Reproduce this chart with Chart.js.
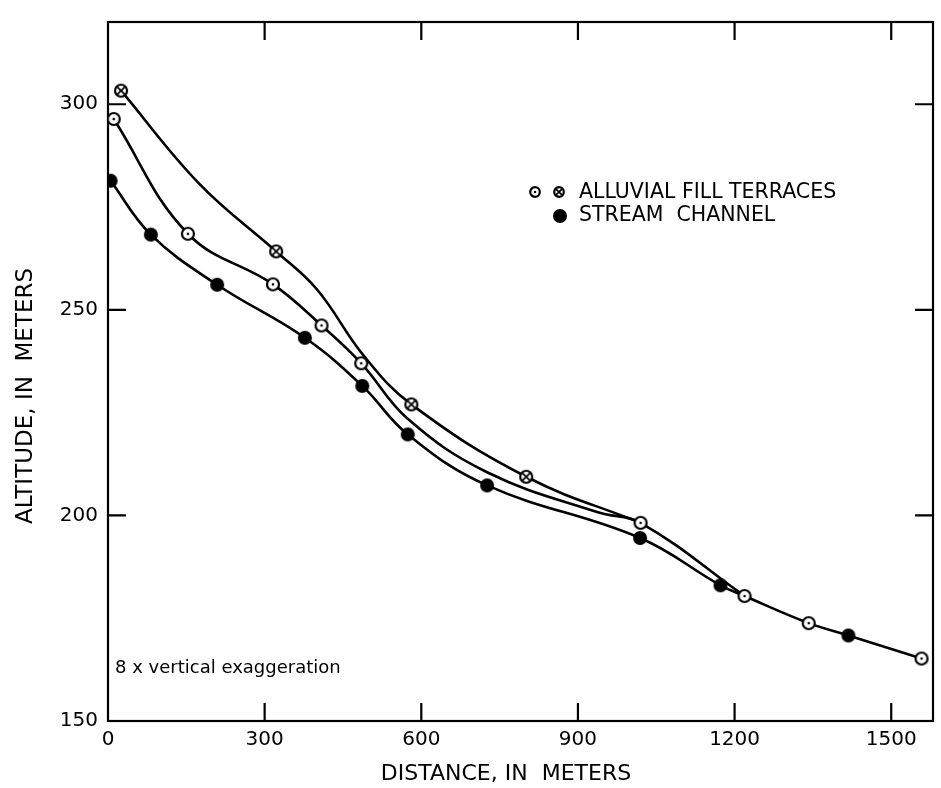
<!DOCTYPE html>
<html>
<head>
<meta charset="utf-8">
<script src="https://cdn.jsdelivr.net/npm/chart.js@4/dist/chart.umd.min.js"></script>
<style>
  body { margin: 0; background: #fff; }
  #wrap { width: 941px; height: 788px; }
</style>
</head>
<body>
<div id="wrap"><canvas id="profile"></canvas></div>
<script>
// lower terrace points (open circle with dot)
var terraceDist = [11, 153, 316, 409, 485, 1020, 1219, 1342, 1558];
var terraceAlt = [296.4, 268.5, 256.2, 246.2, 237.0, 198.2, 180.4, 173.8, 165.2];
// upper terrace points (crossed circle)
var upperDist = [25, 322, 581, 801];
var upperAlt = [303.3, 264.2, 227.0, 209.4];
// stream channel points (filled)
var channelDist = [5, 82, 209, 377, 487, 574, 726, 1019, 1173, 1418];
var channelAlt = [281.4, 268.3, 256.1, 243.2, 231.5, 219.7, 207.3, 194.5, 183.0, 170.8];

// unmarked spots the drawn profiles pass through
var upperPathDist = [176, 400, 490];
var upperPathAlt = [280.5, 255.0, 238.8];
var lowerPathDist = [574, 726, 940];
var lowerPathAlt = [223.5, 210.5, 200.7];

var distTicks = [0, 300, 600, 900, 1200, 1500];
var altTicks = [150, 200, 250, 300];

var FONT = '"DejaVu Sans", sans-serif';

function pts(xs, ys) {
  return xs.map(function (x, i) { return { x: x, y: ys[i] }; });
}
function byDist(a, b) { return a.x - b.x; }

var terracePts = pts(terraceDist, terraceAlt);
var upperLine = pts(upperDist, upperAlt)
  .concat(pts(upperPathDist, upperPathAlt), terracePts.slice(5, 6)).sort(byDist);
var lowerLine = terracePts.slice(0, 7)
  .concat(pts(lowerPathDist, lowerPathAlt)).sort(byDist);
var streamLine = pts(channelDist, channelAlt).concat(terracePts.slice(6)).sort(byDist);

// marker images
function mark(kind, r) {
  var c = document.createElement('canvas');
  var s = Math.ceil(r * 2 + 4);
  c.width = s; c.height = s;
  var g = c.getContext('2d');
  var m = s / 2;
  g.beginPath();
  g.arc(m, m, r, 0, Math.PI * 2);
  if (kind === 'fill') {
    g.fillStyle = '#000';
    g.fill();
  } else {
    g.fillStyle = '#fff';
    g.fill();
    g.lineWidth = 2.2;
    g.strokeStyle = '#000';
    g.stroke();
    if (kind === 'dot') {
      g.beginPath();
      g.arc(m, m, 1.3, 0, Math.PI * 2);
      g.fillStyle = '#000';
      g.fill();
    } else {
      var d = r * 0.62;
      g.beginPath();
      g.moveTo(m - d, m - d); g.lineTo(m + d, m + d);
      g.moveTo(m + d, m - d); g.lineTo(m - d, m + d);
      g.lineWidth = 1.7;
      g.stroke();
    }
  }
  return c;
}

var dotMark = mark('dot', 6);
var crossMark = mark('cross', 6);
var fillMark = mark('fill', 7);

function lineSet(data) {
  return {
    data: data, showLine: true, borderColor: '#000', borderWidth: 2.6,
    pointRadius: 0, tension: 0.4, order: 2
  };
}
function markSet(data, img) {
  return {
    data: data, showLine: false, pointStyle: img, pointRadius: 7, order: 1
  };
}

var frame = {
  id: 'frame',
  beforeDatasetsDraw: function (chart) {
    var ctx = chart.ctx, a = chart.chartArea;
    var x = chart.scales.x, y = chart.scales.y;
    ctx.save();
    ctx.strokeStyle = '#000';
    ctx.lineWidth = 2.2;
    ctx.strokeRect(a.left, a.top, a.right - a.left, a.bottom - a.top);
    ctx.beginPath();
    x.ticks.forEach(function (t) {
      var px = x.getPixelForValue(t.value);
      if (px <= a.left + 1) return;
      ctx.moveTo(px, a.bottom); ctx.lineTo(px, a.bottom - 18);
      ctx.moveTo(px, a.top); ctx.lineTo(px, a.top + 18);
    });
    y.ticks.forEach(function (t) {
      var py = y.getPixelForValue(t.value);
      if (py >= a.bottom - 1) return;
      ctx.moveTo(a.left, py); ctx.lineTo(a.left + 18, py);
      ctx.moveTo(a.right, py); ctx.lineTo(a.right - 18, py);
    });
    ctx.stroke();
    ctx.restore();
  },
  afterDraw: function (chart) {
    var ctx = chart.ctx;
    ctx.save();
    ctx.fillStyle = '#000';
    ctx.textBaseline = 'middle';
    ctx.textAlign = 'center';
    ctx.font = '22px ' + FONT;
    ctx.fillText('DISTANCE, IN  METERS', 506, 774);
    ctx.save();
    ctx.translate(26, 396);
    ctx.rotate(-Math.PI / 2);
    ctx.font = '23px ' + FONT;
    ctx.fillText('ALTITUDE, IN  METERS', 0, 0);
    ctx.restore();

    ctx.textAlign = 'left';
    ctx.font = '20.5px ' + FONT;
    ctx.fillText('ALLUVIAL FILL TERRACES', 579, 193);
    ctx.fillText('STREAM  CHANNEL', 579, 216);
    var sd = mark('dot', 4.8), sc = mark('cross', 4.8);
    ctx.drawImage(sd, 535 - sd.width / 2, 192 - sd.height / 2);
    ctx.drawImage(sc, 559 - sc.width / 2, 192 - sc.height / 2);
    ctx.drawImage(fillMark, 560 - fillMark.width / 2, 216 - fillMark.height / 2);

    ctx.font = '18px ' + FONT;
    ctx.fillText('8 x vertical exaggeration', 115, 668);
    ctx.restore();
  }
};

var ctx = document.getElementById('profile').getContext('2d');
var myChart = new Chart(ctx, {
  type: 'scatter',
  data: {
    datasets: [
      markSet(terracePts, dotMark),
      markSet(pts(upperDist, upperAlt), crossMark),
      markSet(pts(channelDist, channelAlt), fillMark),
      lineSet(upperLine),
      lineSet(lowerLine),
      lineSet(streamLine)
    ]
  },
  options: {
    responsive: true,
    maintainAspectRatio: false,
    animation: false,
    layout: { padding: { left: 0, right: 6, top: 10, bottom: 0 } },
    plugins: { legend: { display: false }, tooltip: { enabled: false } },
    scales: {
      x: {
        type: 'linear', min: 0, max: 1580,
        afterFit: function (s) { s.height = 67; },
        afterBuildTicks: function (s) { s.ticks = distTicks.map(function (v) { return { value: v }; }); },
        grid: { display: false, drawTicks: false },
        border: { display: false },
        ticks: {
          color: '#000', padding: 7, maxRotation: 0, font: { family: FONT, size: 20 },
          callback: function (v) { return String(v); }
        }
      },
      y: {
        type: 'linear', min: 150, max: 320,
        afterFit: function (s) { s.width = 108; },
        afterBuildTicks: function (s) { s.ticks = altTicks.map(function (v) { return { value: v }; }); },
        grid: { display: false, drawTicks: false },
        border: { display: false },
        ticks: {
          color: '#000', padding: 10, font: { family: FONT, size: 20 },
          callback: function (v) { return String(v); }
        }
      }
    }
  },
  plugins: [frame]
});
</script>
</body>
</html>
